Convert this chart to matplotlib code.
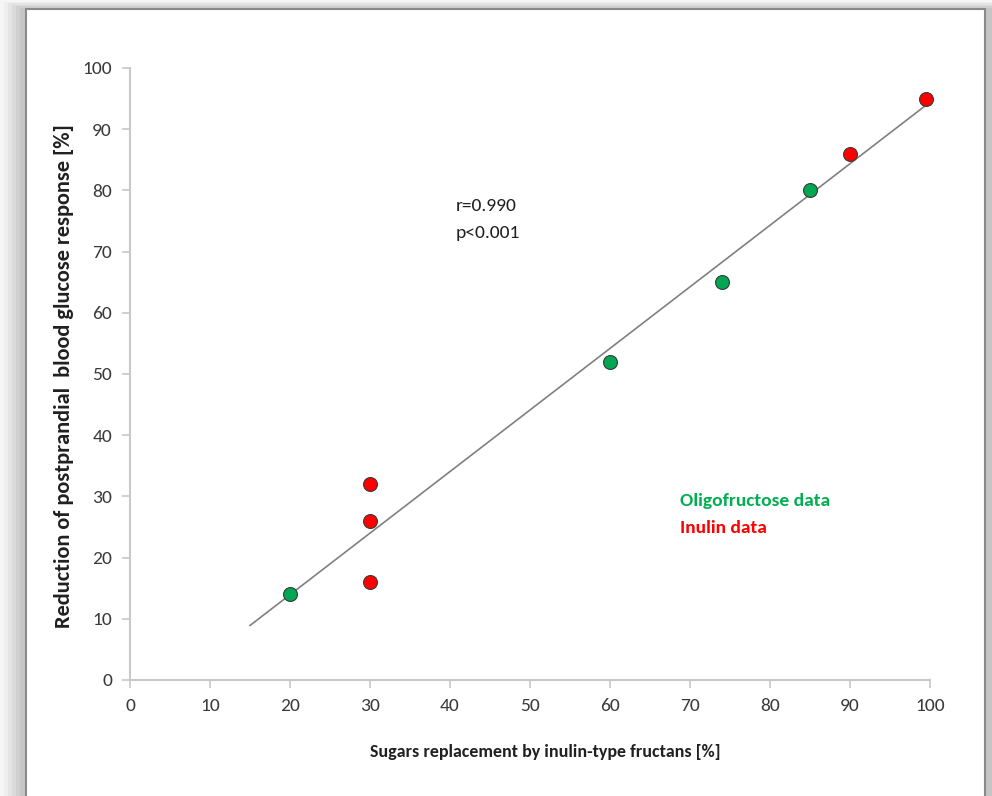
import numpy as np
import matplotlib
matplotlib.use('Agg')
import matplotlib.pyplot as plt
from matplotlib.patches import Rectangle

# ── data ──
oligo_x = [20, 60, 74, 85]
oligo_y = [14, 52, 65, 80]
inulin_x = [30, 30, 30, 90, 99.5]
inulin_y = [32, 26, 16, 86, 95]
fit_range = [15, 99.5]
x_ticks = list(range(0, 101, 10))
y_ticks = list(range(0, 101, 10))

FONT = ['Carlito', 'DejaVu Sans']
plt.rcParams['font.family'] = FONT

fig = plt.figure(figsize=(9.92, 7.96), dpi=100)
fig.patch.set_facecolor('white')

# ── shadowed frame ──
W, H = 992, 796
shades = ['#f6f6f6', '#eeeeee', '#e4e4e4', '#dadada', '#d0d0d0', '#c6c6c6']
for i, c in enumerate(shades):
    x0 = i * 4
    fig.patches.append(Rectangle((x0 / W, 0), 1, 1 - (i * 1.5) / H,
                                 transform=fig.transFigure, facecolor=c, edgecolor='none', zorder=-10))
fig.patches.append(Rectangle((26 / W, -0.01), (985 - 26) / W, (796 - 9) / H + 0.01,
                             transform=fig.transFigure, facecolor='white', edgecolor='#8a8a8a',
                             linewidth=1.5, zorder=-5))

ax = fig.add_axes([130 / W, 116 / H, 800 / W, 612 / H])
ax.set_xlim(0, 100)
ax.set_ylim(0, 100)
ax.set_facecolor('none')

for s in ['top', 'right']:
    ax.spines[s].set_visible(False)
for s in ['left', 'bottom']:
    ax.spines[s].set_color('#c8c8c8')
    ax.spines[s].set_linewidth(1.5)

ax.set_xticks(x_ticks)
ax.set_yticks(y_ticks)
ax.tick_params(direction='out', length=6, width=1.2, color='#c8c8c8',
               labelsize=14, labelcolor='#3a3a3a', pad=7)

# regression line
all_x = np.array(oligo_x + inulin_x)
all_y = np.array(oligo_y + inulin_y)
slope, icpt = np.polyfit(all_x, all_y, 1)
fx = np.array(fit_range)
ax.plot(fx, slope * fx + icpt, color='#808080', linewidth=1.2, zorder=2)

ax.plot(oligo_x, oligo_y, 'o', markersize=10, markerfacecolor='#00a651',
        markeredgecolor='#3a3a3a', markeredgewidth=0.8, zorder=3, clip_on=False)
ax.plot(inulin_x, inulin_y, 'o', markersize=10, markerfacecolor='#ff0000',
        markeredgecolor='#3a3a3a', markeredgewidth=0.8, zorder=3, clip_on=False)

ax.text(40.7, 77.5, 'r=0.990', fontsize=14, color='#202020', va='center')
ax.text(40.7, 73.0, 'p<0.001', fontsize=14, color='#202020', va='center')

ax.text(68.7, 29.3, 'Oligofructose data', fontsize=14, fontweight='bold',
        color='#00b050', va='center')
ax.text(68.7, 24.8, 'Inulin data', fontsize=14, fontweight='bold',
        color='#ff0000', va='center')

ax.set_xlabel('Sugars replacement by inulin-type fructans [%]', fontsize=13,
              fontweight='bold', color='#202020', va='center')
ax.xaxis.set_label_coords(0.519, -0.1176)
ax.set_ylabel('Reduction of postprandial  blood glucose response [%]', fontsize=16.1,
              fontweight='bold', color='#202020', va='center')
ax.yaxis.set_label_coords(-0.083, 0.497)

fig.savefig('out.png', dpi=100)
